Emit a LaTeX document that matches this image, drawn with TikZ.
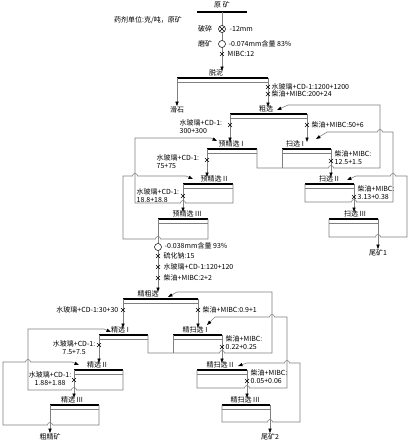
\documentclass[tikz,border=0pt]{standalone}
\usepackage{fontspec}
\setmainfont{Noto Sans CJK SC}
\usetikzlibrary{arrows.meta,shapes.misc}
\begin{document}
\begin{tikzpicture}[x=1pt,y=-1pt,font=\fontsize{7}{8}\selectfont,
  bar/.style={line width=2.6pt},
  pipe/.style={draw=black!50,line width=0.6pt},
  feed/.style={pipe,-{Triangle[color=black,length=4.5pt,width=3.2pt]}},
  tocell/.style={feed,shorten >=7pt},
  dose/.style={cross out,draw=black,line width=0.5pt,minimum size=3.6pt,inner sep=0pt},
  mill/.style={circle,draw=black,line width=0.5pt,fill=white,minimum size=7pt,inner sep=0pt},
  cell/.style={anchor=base,inner sep=0.3pt},
  txt/.style={inner sep=0.5pt}]
\useasboundingbox (0,0) rectangle (410,444);
% feed
\coordinate (yk) at (222,12);
\draw[bar] (197,12) -- (247,12);
\node[cell] (yk-t) at (222,8) {原 矿};
\node[txt] (unit) at (148,20) {药剂单位:克/吨，原矿};
% cells
\foreach \n/\a/\b/\y/\t/\c in {
  tn/177/268/78/脱泥/216,
  cx/230/307/114/粗选/266,
  yj1/207/257/149/预精选 I/231,
  sx1/282/331/149/扫选 I/295,
  yj2/183/233/184/预精选 II/214,
  sx2/305/354/184/扫选 II/329,
  yj3/158/208/219/预精选 III/187,
  sx3/329/378/219/扫选 III/355,
  jcx/123/198/299/精粗选/148,
  jx1/99/148/335/精选 I/120,
  jsx1/173/222/335/精扫选 I/195,
  jx2/74/123/370/精选 II/97,
  jsx2/197/247/370/精扫选 II/220,
  jx3/50/99/405/精选 III/72,
  jsx3/222/270/405/精扫选 III/245}
{
  \coordinate (\n-l) at (\a,\y);
  \coordinate (\n-r) at (\b,\y);
  \draw[bar] (\n-l) -- (\n-r);
  \draw[pipe] ([yshift=-4pt]\n-l) -- ([yshift=-4pt]\n-r);
  \node[cell] (\n-t) at (\c,\y-2.5) {\t};
}
% products
\node[txt] (hs) at (177,110) {滑石};
\node[txt] (wk1) at (378,253) {尾矿1};
\node[txt] (cjk) at (50,437) {粗精矿};
\node[txt] (wk2) at (270,437) {尾矿2};
% return inlets
\coordinate (cx-in) at (277,110);
\coordinate (sx1-in) at (316,139);
\coordinate (sx2-in) at (347,180);
\coordinate (yj1-in) at (217,141);
\coordinate (yj2-in) at (193,179);
\coordinate (jcx-in) at (168,297);
\coordinate (jx1-in) at (111,332);
\coordinate (jsx1-in) at (207,325);
\coordinate (jx2-in) at (79,365);
\coordinate (jsx2-in) at (238,366);
% main flow
\draw[tocell] (yk) -- (yk |- tn-l);
\draw[feed] (tn-l) -- (hs.north);
\draw[tocell] (tn-r) -- (tn-r |- cx-l);
\draw[tocell] (cx-l) -- (cx-l |- yj1-l);
\draw[tocell] (cx-r) -- (cx-r |- sx1-l);
\draw[tocell] (yj1-l) -- (yj1-l |- yj2-l);
\draw[tocell] (sx1-r) -- (sx1-r |- sx2-l);
\draw[tocell] (yj2-l) -- (yj2-l |- yj3-l);
\draw[tocell] (sx2-r) -- (sx2-r |- sx3-l);
\draw[feed] (sx3-r) -- (wk1.north);
\draw[tocell] (yj3-l) -- (yj3-l |- jcx-l);
\draw[tocell] (jcx-l) -- (jcx-l |- jx1-l);
\draw[tocell] (jcx-r) -- (jcx-r |- jsx1-l);
\draw[tocell] (jx1-l) -- (jx1-l |- jx2-l);
\draw[tocell] (jsx1-r) -- (jsx1-r |- jsx2-l);
\draw[tocell] (jx2-l) -- (jx2-l |- jx3-l);
\draw[tocell] (jsx2-r) -- (jsx2-r |- jsx3-l);
\draw[feed] (jx3-l) -- (cjk.north);
\draw[feed] (jsx3-r) -- (wk2.north);
% returns
\draw[feed] (yj1-r) -- (257,168) -- (328.5,168) arc[start angle=180,end angle=0,radius=2.5pt] -- (380,168) -- (380,105) -- (288,105) -- (cx-in);
\draw[pipe] (sx1-l) -- (282,168);
\draw[feed] (sx2-l) -- (305,202) -- (351.5,202) arc[start angle=180,end angle=0,radius=2.5pt] -- (393,202) -- (393,132) -- (382.5,132) arc[start angle=0,end angle=180,radius=2.5pt] -- (327,132) -- (sx1-in);
\draw[feed] (sx3-l) -- (329,237) -- (375.5,237) arc[start angle=180,end angle=0,radius=2.5pt] -- (407,237) -- (407,176) -- (395.5,176) arc[start angle=0,end angle=180,radius=2.5pt] -- (356,176) -- (sx2-in);
\draw[feed] (yj2-r) -- (233,203) -- (185.5,203) arc[start angle=0,end angle=180,radius=2.5pt] -- (135,203) -- (135,138) -- (211,138) -- (yj1-in);
\draw[feed] (yj3-r) -- (208,239) -- (160.5,239) arc[start angle=0,end angle=180,radius=2.5pt] -- (123,239) -- (123,176) -- (132.5,176) arc[start angle=180,end angle=0,radius=2.5pt] -- (186,176) -- (yj2-in);
\draw[feed] (jx1-r) -- (148,353) -- (219.5,353) arc[start angle=180,end angle=0,radius=2.5pt] -- (272,353) -- (272,292) -- (177,292) -- (jcx-in);
\draw[pipe] (jsx1-l) -- (173,353);
\draw[feed] (jsx2-l) -- (197,388) -- (244.5,388) arc[start angle=180,end angle=0,radius=2.5pt] -- (287,388) -- (287,317) -- (274.5,317) arc[start angle=0,end angle=180,radius=2.5pt] -- (215,317) -- (jsx1-in);
\draw[feed] (jx2-r) -- (123,390) -- (76.5,390) arc[start angle=0,end angle=180,radius=2.5pt] -- (28,390) -- (28,329) -- (104,329) -- (jx1-in);
\draw[feed] (jx3-r) -- (99,425) -- (52.5,425) arc[start angle=0,end angle=180,radius=2.5pt] -- (3,425) -- (3,362) -- (25.5,362) arc[start angle=180,end angle=0,radius=2.5pt] -- (72,362) -- (jx2-in);
\draw[feed] (jsx3-l) -- (222,422) -- (267.5,422) arc[start angle=180,end angle=0,radius=2.5pt] -- (300,422) -- (300,363) -- (289.5,363) arc[start angle=0,end angle=180,radius=2.5pt] -- (247,363) -- (jsx2-in);
% crushing and grinding
\node[txt] (crush) at (205,29) {破碎};
\node[txt] (grind) at (205,44) {磨矿};
\node[mill] (c1) at (222,29) {};
\node[dose,minimum size=4.6pt] (c1x) at (222,29) {};
\node[mill] (c2) at (222,44) {};
\node[mill] (c3) at (158,247) {};
\node[txt,anchor=west] (r1) at (229,29) {-12mm};
\node[txt,anchor=west] (r2) at (228,44) {-0.074mm含量 83\%};
% reagents
\foreach \p/\q [count=\i] in {222/54,268/87,268/94,230/125,307/125,207/160,331/161,183/196,354/197,
  158/256,158/267,158/278,123/310,198/310,99/345,222/347,74/380,247/381}
  \node[dose] (x\i) at (\p,\q) {};
\node[txt,anchor=west] (r3) at (227,54) {MIBC:12};
\node[txt,anchor=west] (a1) at (271,87) {水玻璃+CD-1:1200+1200};
\node[txt,anchor=west] (a2) at (271,94) {柴油+MIBC:200+24};
\node[txt,anchor=west,align=left] (a3) at (179,127) {水玻璃+CD-1:\\300+300};
\node[txt,anchor=west] (a4) at (311,125) {柴油+MIBC:50+6};
\node[txt,anchor=west,align=left] (a5) at (156,162) {水玻璃+CD-1:\\75+75};
\node[txt,anchor=west,align=left] (a6) at (334,157.5) {柴油+MIBC:\\12.5+1.5};
\node[txt,anchor=west,align=left] (a7) at (136,195.5) {水玻璃+CD-1:\\18.8+18.8};
\node[txt,anchor=west,align=left] (a8) at (357,192.5) {柴油+MIBC:\\3.13+0.38};
\node[txt,anchor=west] (a9) at (164,246) {-0.038mm含量 93\%};
\node[txt,anchor=west] (a10) at (163,256) {硫化钠:15};
\node[txt,anchor=west] (a11) at (163,267) {水玻璃+CD-1:120+120};
\node[txt,anchor=west] (a12) at (163,278) {柴油+MIBC:2+2};
\node[txt,anchor=east] (a13) at (119,310) {水玻璃+CD-1:30+30};
\node[txt,anchor=west] (a14) at (202,310) {柴油+MIBC:0.9+1};
\node[txt,anchor=east,align=center] (a15) at (96,348) {水玻璃+CD-1:\\7.5+7.5};
\node[txt,anchor=west,align=left] (a16) at (225,343) {柴油+MIBC:\\0.22+0.25};
\node[txt,anchor=east,align=center] (a17) at (72,379) {水玻璃+CD-1:\\1.88+1.88};
\node[txt,anchor=west,align=left] (a18) at (250,377) {柴油+MIBC:\\0.05+0.06};
\end{tikzpicture}
\end{document}
